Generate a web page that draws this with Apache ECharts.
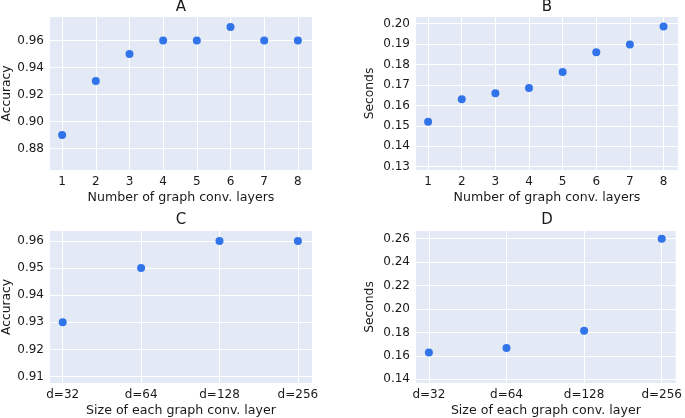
<!DOCTYPE html>
<html>
<head>
<meta charset="utf-8">
<script src="https://cdn.jsdelivr.net/npm/echarts@6/dist/echarts.min.js"></script>
<style>
html,body{margin:0;padding:0;background:#fff;}
#c{width:685px;height:418px;}
</style>
</head>
<body>
<div id="c"></div>
<script>
// Data
const layers = [1, 2, 3, 4, 5, 6, 7, 8];
const accLayers = [0.89, 0.93, 0.95, 0.96, 0.96, 0.97, 0.96, 0.96];
const secLayers = [0.152, 0.163, 0.166, 0.1686, 0.1764, 0.186, 0.1898, 0.1987];
const sizes = ['d=32', 'd=64', 'd=128', 'd=256'];
const accSizes = [0.93, 0.95, 0.96, 0.96];
const secSizes = [0.163, 0.1667, 0.1814, 0.26];
const yTicksA = [0.88, 0.90, 0.92, 0.94, 0.96];
const yTicksB = [0.13, 0.14, 0.15, 0.16, 0.17, 0.18, 0.19, 0.20];
const yTicksC = [0.91, 0.92, 0.93, 0.94, 0.95, 0.96];
const yTicksD = [0.14, 0.16, 0.18, 0.20, 0.22, 0.24, 0.26];
const titles = ['A', 'B', 'C', 'D'];

const FONT = 'DejaVu Sans';
const TXT = '#1a1a1a';
const BG = '#e4eaf5';
const DOT = '#3174ea';

const grids = [
  {left: 50, top: 17, width: 262, height: 153},
  {left: 416, top: 17, width: 262, height: 153},
  {left: 50, top: 231, width: 262, height: 152},
  {left: 416, top: 231, width: 262, height: 152}
];

function xAxisFor(i, min, max, ticks, fmt, name) {
  return {
    type: 'value', gridIndex: i, min: min, max: max,
    name: name, nameLocation: 'middle', nameGap: 21,
    nameTextStyle: {fontFamily: FONT, fontSize: 12.6, color: TXT},
    axisLine: {show: false},
    axisTick: {show: false, customValues: ticks},
    axisLabel: {customValues: ticks, formatter: fmt, fontFamily: FONT, fontSize: 12, color: TXT, margin: 6},
    splitLine: {show: true, lineStyle: {color: '#ffffff', width: 1}}
  };
}
function yAxisFor(i, min, max, ticks, name, gap) {
  return {
    type: 'value', gridIndex: i, min: min, max: max,
    name: name, nameLocation: 'middle', nameGap: gap,
    nameTextStyle: {fontFamily: FONT, fontSize: 12.3, color: TXT},
    axisLine: {show: false},
    axisTick: {show: false, customValues: ticks},
    axisLabel: {customValues: ticks, formatter: v => Number(v).toFixed(2), fontFamily: FONT, fontSize: 12, color: TXT, margin: 6},
    splitLine: {show: true, lineStyle: {color: '#ffffff', width: 1}}
  };
}

const layerFmt = v => String(Math.round(v));
const sizeFmt = v => sizes[Math.round(v)];
const sizeIdx = sizes.map((s, i) => i);

const option = {
  animation: false,
  backgroundColor: '#ffffff',
  title: [
    {text: titles[0], left: 181, top: 0},
    {text: titles[1], left: 547, top: 0},
    {text: titles[2], left: 181, top: 213},
    {text: titles[3], left: 547, top: 213}
  ].map(t => Object.assign(t, {textAlign: 'center', padding: 0, textStyle: {fontFamily: FONT, fontSize: 15, fontWeight: 'normal', color: TXT}})),
  grid: grids.map(g => Object.assign({}, g, {show: true, backgroundColor: BG, borderWidth: 0, containLabel: false})),
  xAxis: [
    xAxisFor(0, 0.64, 8.42, layers, layerFmt, 'Number of graph conv. layers'),
    xAxisFor(1, 0.64, 8.43, layers, layerFmt, 'Number of graph conv. layers'),
    xAxisFor(2, -0.162, 3.18, sizeIdx, sizeFmt, 'Size of each graph conv. layer'),
    xAxisFor(3, -0.166, 3.18, sizeIdx, sizeFmt, 'Size of each graph conv. layer')
  ],
  yAxis: [
    yAxisFor(0, 0.8642, 0.9773, yTicksA, 'Accuracy', 37),
    yAxisFor(1, 0.1284, 0.2033, yTicksB, 'Seconds', 40),
    yAxisFor(2, 0.9076, 0.9637, yTicksC, 'Accuracy', 37),
    yAxisFor(3, 0.1369, 0.2666, yTicksD, 'Seconds', 40)
  ],
  series: [
    {data: layers.map((x, i) => [x, accLayers[i]])},
    {data: layers.map((x, i) => [x, secLayers[i]])},
    {data: sizeIdx.map((x, i) => [x, accSizes[i]])},
    {data: sizeIdx.map((x, i) => [x, secSizes[i]])}
  ].map((s, i) => Object.assign(s, {type: 'scatter', xAxisIndex: i, yAxisIndex: i, symbolSize: 8, itemStyle: {color: DOT, opacity: 1}}))
};

const chart = echarts.init(document.getElementById('c'), null, {renderer: 'canvas'});
chart.setOption(option);
</script>
</body>
</html>
